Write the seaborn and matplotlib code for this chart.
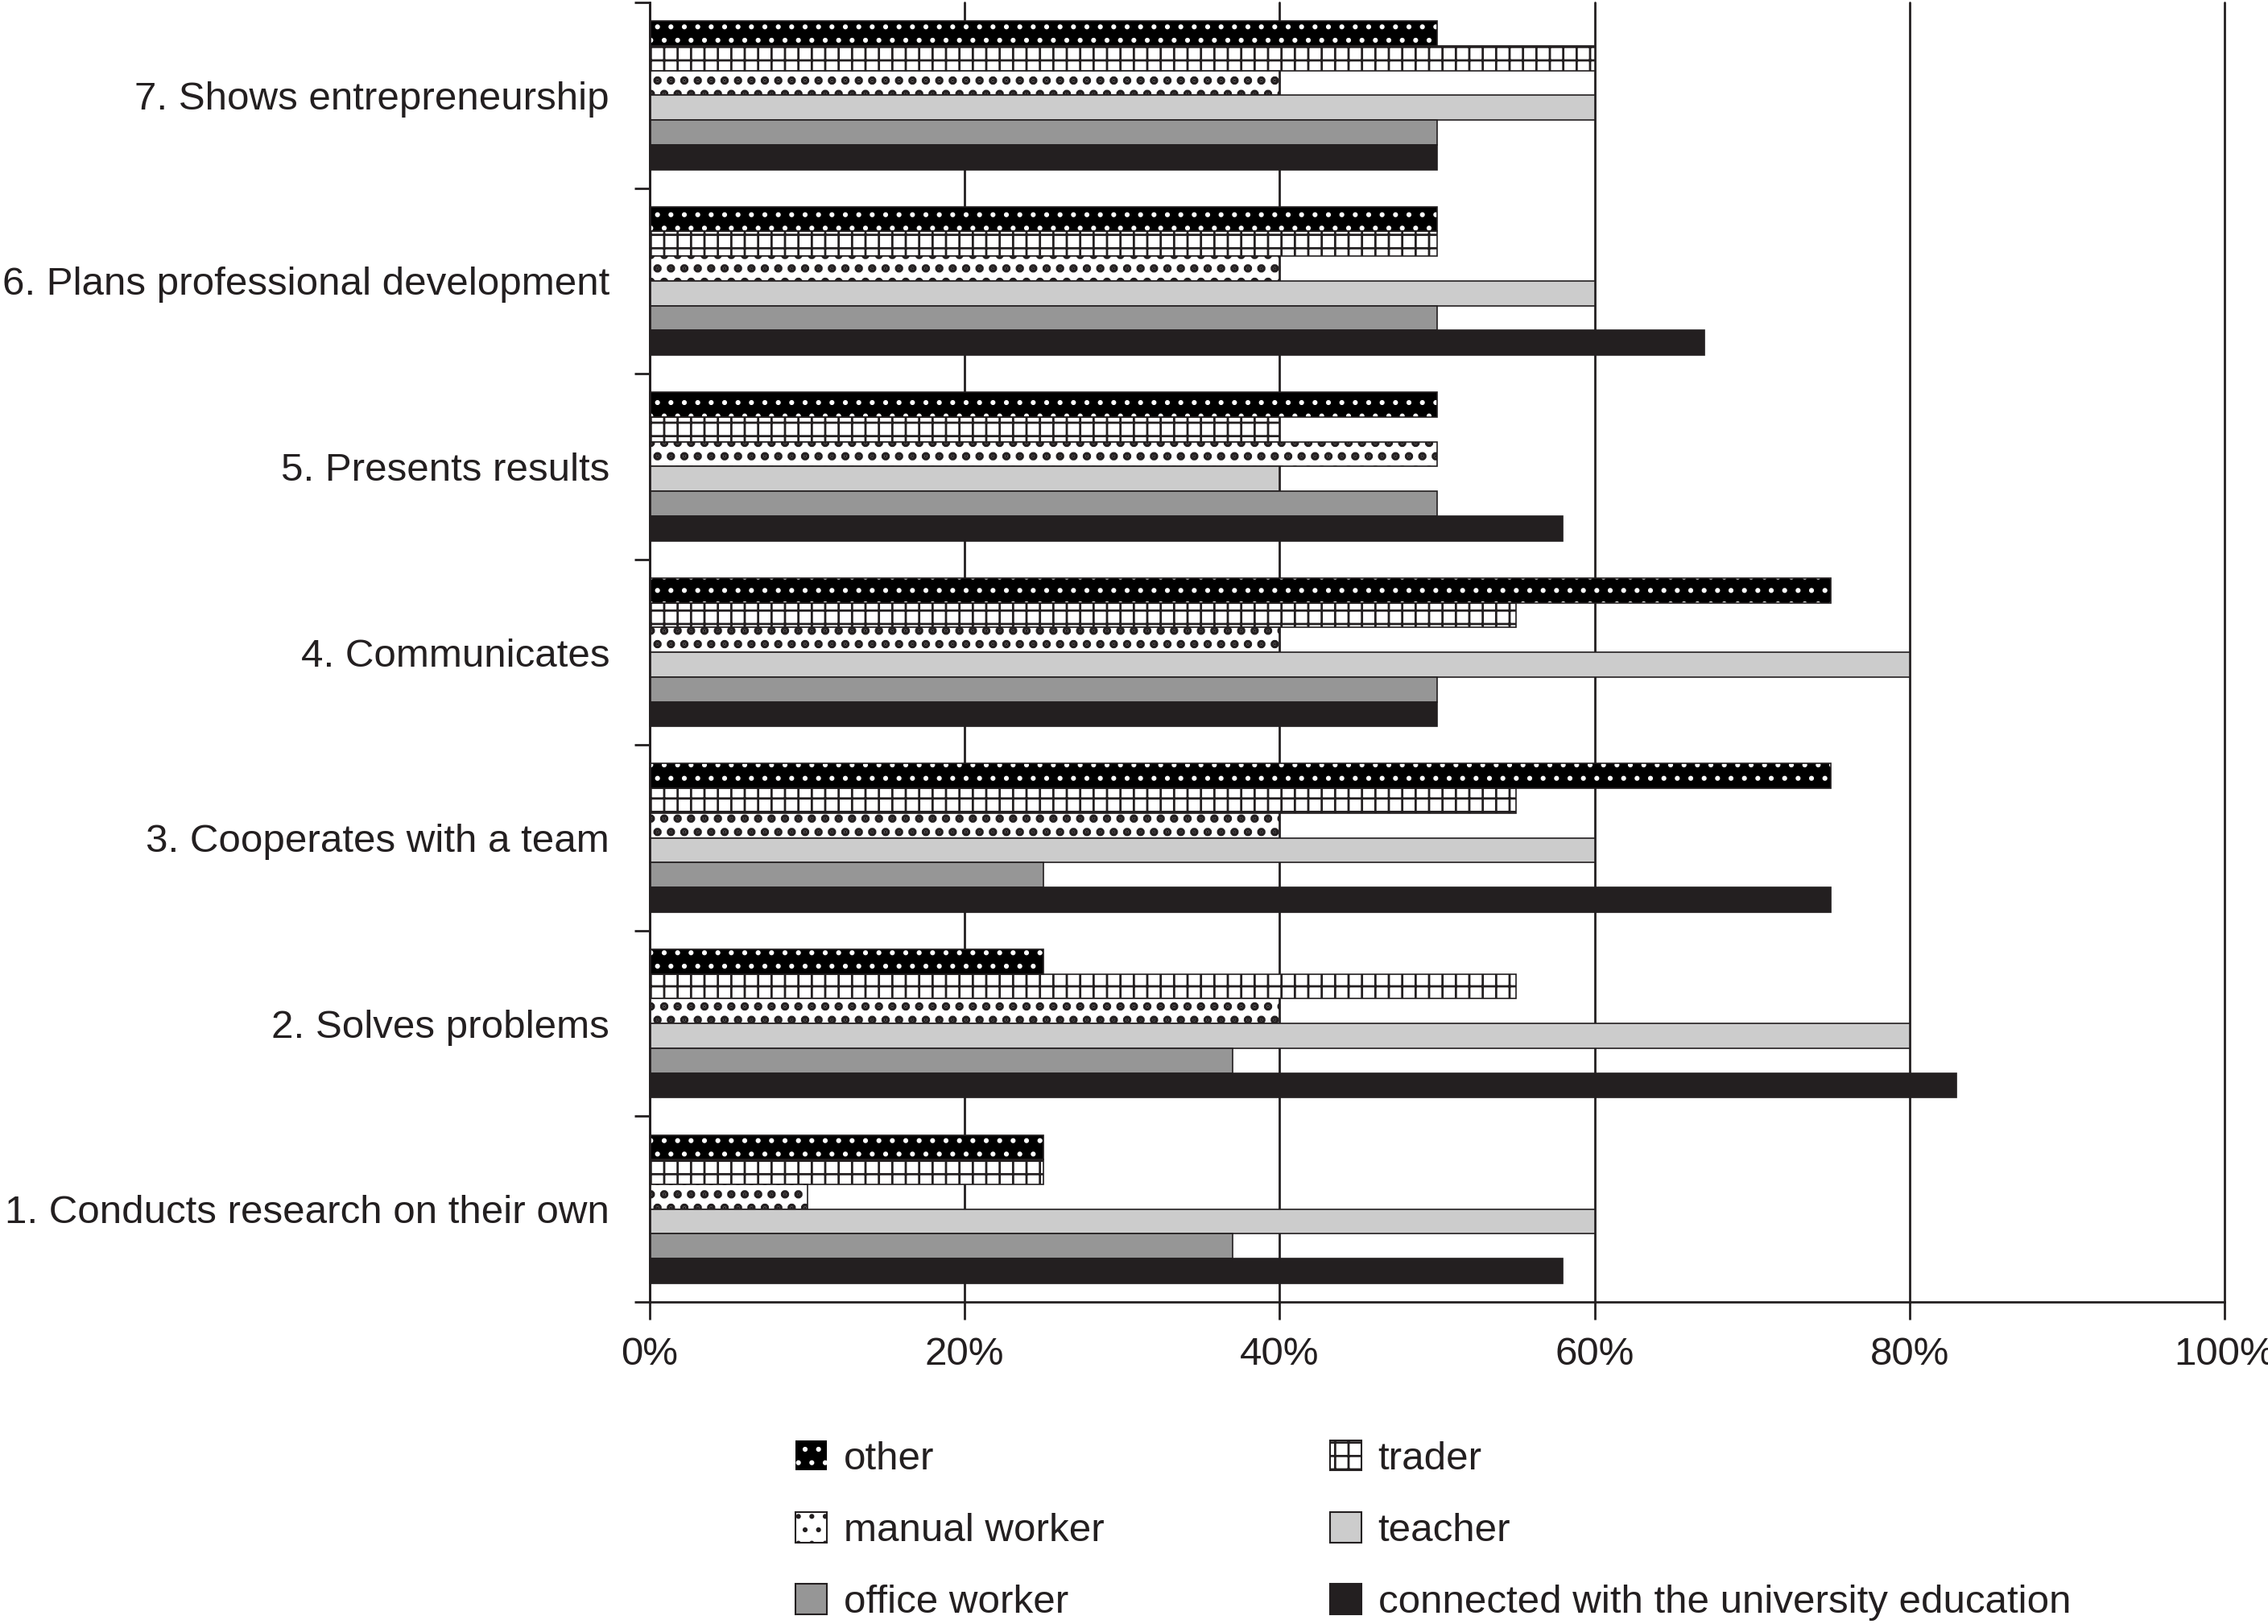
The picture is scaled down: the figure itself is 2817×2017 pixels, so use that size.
import numpy as np
import pandas as pd
import matplotlib
matplotlib.use('Agg')
import matplotlib.pyplot as plt
import matplotlib.patches as mpatches
from matplotlib.ticker import FixedLocator, PercentFormatter
import seaborn as sns

# Competences (top to bottom) and respondent groups
categories = ['7. Shows entrepreneurship', '6. Plans professional development',
              '5. Presents results', '4. Communicates', '3. Cooperates with a team',
              '2. Solves problems', '1. Conducts research on their own']
groups = ['other', 'trader', 'manual worker', 'teacher', 'office worker',
          'connected with the university education']

# Share of answers (%) per competence, same order as categories
other = [50, 50, 50, 75, 75, 25, 25]
trader = [60, 50, 40, 55, 55, 55, 25]
manual_worker = [40, 40, 50, 40, 40, 40, 10]
teacher = [60, 60, 40, 80, 60, 80, 60]
office_worker = [50, 50, 50, 50, 25, 37, 37]
connected = [50, 67, 58, 50, 75, 83, 58]

series = [other, trader, manual_worker, teacher, office_worker, connected]
rows = []
for g, vals in zip(groups, series):
    for c, v in zip(categories, vals):
        rows.append({'item': c, 'group': g, 'share': v})
df = pd.DataFrame(rows)

ink = '#231f20'
face = {'other': '#000000', 'trader': '#ffffff', 'manual worker': '#ffffff',
        'teacher': '#cccccc', 'office worker': '#969696',
        'connected with the university education': ink}
hatches = {'other': '.', 'trader': '+', 'manual worker': '.'}
fs = 35.5

sns.set_style('white')
plt.rcParams['font.family'] = ['Liberation Sans', 'DejaVu Sans']
plt.rcParams['hatch.linewidth'] = 2.0
plt.rcParams['text.color'] = ink

fig, ax = plt.subplots(figsize=(28.17, 20.17), dpi=100)
fig.subplots_adjust(left=0.2865, right=0.9808, top=0.9985, bottom=0.1983)

sns.barplot(data=df, y='item', x='share', hue='group', order=categories,
            hue_order=groups, palette=face, orient='h', width=0.8,
            saturation=1, edgecolor=ink, linewidth=1.2, legend=False, ax=ax)

# patterns
for g, cont in zip(groups, ax.containers):
    for bar in cont:
        if g == 'other':
            bar.set_hatch('.')
            bar.set_edgecolor('white')
            bar.set_linewidth(0)
            ax.add_patch(mpatches.Rectangle(bar.get_xy(), bar.get_width(), bar.get_height(),
                                            fill=False, edgecolor=ink, lw=1.2, zorder=bar.get_zorder()))
        elif g in hatches:
            bar.set_hatch(hatches[g])
            if g == 'manual worker' and hasattr(bar, 'set_hatch_linewidth'):
                bar.set_hatch_linewidth(5.0)

ax.set_xlim(0, 100)
ax.set_ylim(len(categories) - 0.5, -0.5)
ax.xaxis.set_major_locator(FixedLocator(range(0, 101, 20)))
ax.xaxis.set_major_formatter(PercentFormatter(xmax=100, decimals=0))
ax.set_yticks(np.arange(-0.5, len(categories)), labels=[])
ax.set_yticks(np.arange(len(categories)), labels=categories, minor=True)

ax.tick_params(axis='y', which='minor', length=0, pad=36, labelsize=fs, labelcolor=ink)
ax.tick_params(axis='y', which='major', length=14, width=2, color=ink, direction='out', left=True)
ax.tick_params(axis='x', length=16, width=2, color=ink, direction='out', bottom=True,
               pad=15, labelsize=fs, labelcolor=ink)

ax.xaxis.grid(True, color=ink, lw=2)
for line in ax.get_xgridlines():
    line.set_clip_on(False)
ax.set_axisbelow(True)
for s in ['top', 'right']:
    ax.spines[s].set_visible(False)
for s in ['left', 'bottom']:
    ax.spines[s].set_color(ink)
    ax.spines[s].set_linewidth(2)
ax.set_xlabel('')
ax.set_ylabel('')

# legend, two columns filled row by row
handles = []
for g in groups:
    if g == 'other':
        handles.append(mpatches.Patch(facecolor=face[g], edgecolor='white', hatch='.', lw=0))
    else:
        handles.append(mpatches.Patch(facecolor=face[g], edgecolor=ink, hatch=hatches.get(g), lw=1.5))
order = [0, 2, 4, 1, 3, 5]
fig.legend([handles[i] for i in order], [groups[i] for i in order],
           loc='center left', bbox_to_anchor=(0.3507, 0.0575), ncol=2, frameon=False,
           fontsize=fs, handlelength=0.8, handleheight=0.8, handletextpad=0.41,
           labelspacing=0.88, columnspacing=5.69, borderpad=0, borderaxespad=0)

fig.savefig('out.png', dpi=100)
